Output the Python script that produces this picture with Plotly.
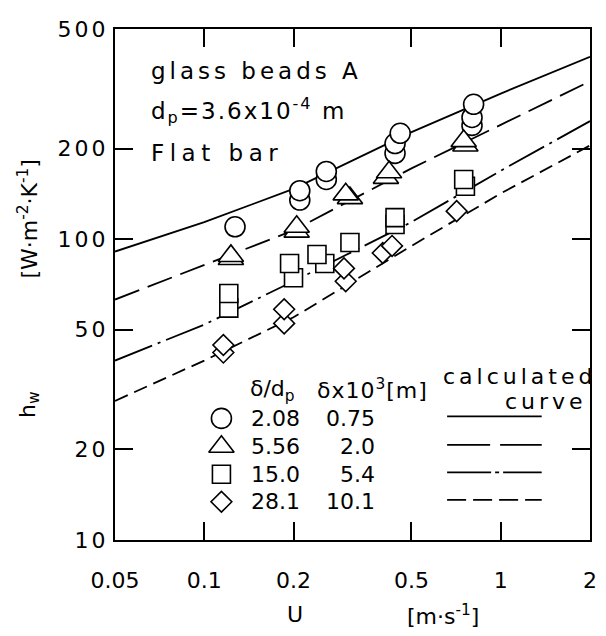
"""h_w vs U for glass beads A on a flat bar (log-log)."""

import plotly.graph_objects as go

# measured points, one list pair per delta/dp
circle_u = [0.127, 0.21, 0.21, 0.258, 0.258, 0.44, 0.44, 0.458, 0.80, 0.80, 0.81]
circle_h = [110, 135, 145, 158, 168, 193, 208, 225, 239, 254, 281]
triangle_u = [0.123, 0.123, 0.205, 0.205, 0.31, 0.30, 0.41, 0.42, 0.76, 0.75]
triangle_h = [86, 88, 106, 110, 137, 141, 160, 167, 205, 212]
square_u = [0.121, 0.121, 0.20, 0.194, 0.255, 0.24, 0.31, 0.44, 0.44, 0.76, 0.75]
square_h = [59, 66, 74.5, 83, 83, 89, 97.5, 112, 118, 150, 158]
diamond_u = [0.116, 0.116, 0.186, 0.186, 0.30, 0.296, 0.40, 0.43, 0.71]
diamond_h = [42, 44.5, 52.5, 58.5, 72.5, 80, 90, 95, 124]

# calculated curves
curve_u = [0.05, 0.1, 0.2, 0.5, 1, 2]
curve_solid = [91, 114, 147, 227, 305, 404]
curve_long = [63, 82, 107, 172, 240, 335]
curve_dashdot = [39.5, 52, 72.5, 114, 169, 247]
curve_short = [29, 39.5, 55, 95, 142, 205]

x_ticks = [0.05, 0.1, 0.2, 0.5, 1, 2]
x_tick_text = ["0.05", "0.1", "0.2", "0.5", "1", "2"]
y_ticks = [10, 20, 50, 100, 200, 500]
y_tick_text = ["10", "20", "50", "100", "200", "500"]

legend_ratio = ["2.08", "5.56", "15.0", "28.1"]
legend_delta = ["0.75", "2.0", "5.4", "10.1"]

FONT = "DejaVu Sans"
# the page body has an 8px margin, so the figure is drawn 8px in and 8px smaller
OFF = 8
W, H = 606 - OFF, 636 - OFF
# plot area edges in window pixels
L, R, T, B = 115, 597, 19, 540


def paper(px, py):
    return (px - L) / (R - L), (B - py) / (B - T)


def spaced(s, sp):
    return f'<span style="letter-spacing:{sp}px">{s}</span>'


fig = go.Figure()

# (values, dash in the plot, dash in the key)
styles = [
    (curve_solid, "solid", "solid"),
    (curve_long, "26px,9px", "43px,10px"),
    (curve_dashdot, "40px,6px,3px,6px", "44px,4px,4px,4px"),
    (curve_short, "14px,7px", "19px,7px"),
]
for ys, dash, _ in styles:
    fig.add_trace(go.Scatter(x=curve_u, y=ys, mode="lines",
                             line=dict(color="black", width=1.8, dash=dash),
                             showlegend=False, hoverinfo="skip"))

series = [
    (circle_u, circle_h, "circle", 20),
    (triangle_u, triangle_h, "triangle-up", 22),
    (square_u, square_h, "square", 18),
    (diamond_u, diamond_h, "diamond", 16),
]
for xs, ys, sym, size in series:
    fig.add_trace(go.Scatter(x=xs, y=ys, mode="markers",
                             marker=dict(symbol=sym, size=size, color="white",
                                         line=dict(color="black", width=1.6)),
                             showlegend=False))

# key drawn in window pixels on an overlay axis
rows_y = [416, 445, 473, 501]
for (xs, ys, sym, size), ry, (_, _, kdash) in zip(series, rows_y, styles):
    fig.add_trace(go.Scatter(x=[223], y=[ry], mode="markers", xaxis="x2", yaxis="y2",
                             marker=dict(symbol=sym, size=size, color="white",
                                         line=dict(color="black", width=1.6)),
                             showlegend=False, hoverinfo="skip"))
    fig.add_trace(go.Scatter(x=[452, 548], y=[ry - 2, ry - 2], mode="lines",
                             xaxis="x2", yaxis="y2",
                             line=dict(color="black", width=1.8, dash=kdash),
                             showlegend=False, hoverinfo="skip"))

ann = []


def text(px, py, s, anchor="left", size=22, angle=0):
    x, y = paper(px, py)
    ann.append(dict(x=x, y=y, xref="paper", yref="paper", text=s, showarrow=False,
                    xanchor=anchor, yanchor="middle", textangle=angle,
                    font=dict(family=FONT, size=size, color="black")))


text(150, 62, spaced("glass beads A", 4), size=23)
text(150, 102, spaced("d<sub>p</sub>=3.6x10<sup>-4</sup> m", 2), size=23)
text(150, 145, spaced("Flat bar", 5.5), size=23)
text(250, 388, "δ/d<sub>p</sub>")
text(318, 386, spaced("δx10<sup>3</sup>[m]", 1))
text(605, 373, spaced("calculated", 4), anchor="right")
text(596, 399, spaced("curve", 4), anchor="right")
for r, d, ry in zip(legend_ratio, legend_delta, rows_y):
    text(251, ry, r)
    text(381, ry, d, anchor="right")
text(28, 402, "h<sub>w</sub>", anchor="center", angle=-90)
text(27, 212, "[W·m<sup>-2</sup>·K<sup>-1</sup>]", anchor="center", angle=-90)
text(298, 616, "U", anchor="center")
text(448, 616, "[m·s<sup>-1</sup>]", anchor="center")

axis_common = dict(type="log", ticks="inside", ticklen=18, tickwidth=1.8,
                   tickcolor="black", showline=True, linecolor="black", linewidth=2,
                   mirror="ticks", showgrid=False, zeroline=False,
                   ticklabeloverflow="allow",
                   tickfont=dict(family=FONT, size=22, color="black"))

fig.update_layout(
    width=W, height=H,
    margin=dict(l=L - OFF, r=606 - R, t=T - OFF, b=636 - B),
    paper_bgcolor="white", plot_bgcolor="white",
    xaxis=dict(axis_common, range=[-1.30103, 0.30103], tickvals=x_ticks,
               ticktext=x_tick_text, ticklabelstandoff=20),
    yaxis=dict(axis_common, range=[1, 2.69897], tickvals=y_ticks,
               ticktext=[spaced(t, 3) for t in y_tick_text], ticklabelstandoff=0),
    xaxis2=dict(overlaying="x", range=[L, R], visible=False),
    yaxis2=dict(overlaying="y", range=[B, T], visible=False),
    annotations=ann,
    showlegend=False,
)

fig.write_html("out.html")
